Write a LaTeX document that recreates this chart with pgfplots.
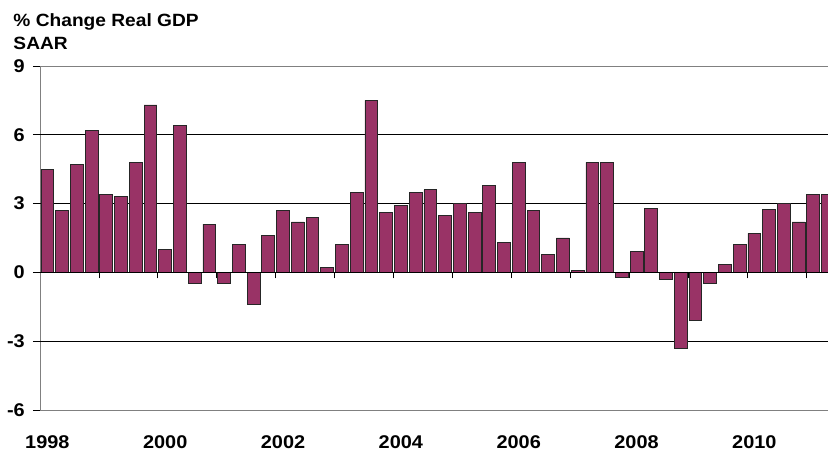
\documentclass[border=0pt]{standalone}
\usepackage{pgfplots}
\pgfplotsset{compat=1.18}
\usepackage{fontspec}
\setmainfont{Liberation Sans}[FakeStretch=1.08]
\definecolor{barfill}{RGB}{153,51,102}
\pgfplotstableread{
q val
0 4.5
1 2.7
2 4.7
3 6.2
4 3.4
5 3.3
6 4.8
7 7.3
8 1.0
9 6.4
10 -0.5
11 2.1
12 -0.5
13 1.2
14 -1.4
15 1.6
16 2.7
17 2.2
18 2.4
19 0.2
20 1.2
21 3.5
22 7.5
23 2.6
24 2.9
25 3.5
26 3.6
27 2.5
28 3.0
29 2.6
30 3.8
31 1.3
32 4.8
33 2.7
34 0.8
35 1.5
36 0.1
37 4.8
38 4.8
39 -0.2
40 0.9
41 2.8
42 -0.3
43 -3.3
44 -2.1
45 -0.5
46 0.35
47 1.2
48 1.7
49 2.75
50 3.0
51 2.2
52 3.4
53 3.4
}\gdp
\begin{document}
\begin{tikzpicture}
\begin{axis}[
  at={(0,0)}, anchor=south west,
  scale only axis, width=788bp, height=344bp,
  xmin=-0.5, xmax=53, ymin=-6, ymax=9,
  axis x line=box, axis y line=left,
  axis line style={-, draw=black!50, line width=0.9bp},
  ytick={-6,-3,0,3,6,9}, yticklabels={-6,-3,0,3,6,9},
  xtick={0,8,...,48}, xticklabels={1998,2000,2002,2004,2006,2008,2010},
  xtick style={draw=none},
  ytick style={black, line width=0.8bp},
  tick align=outside, major tick length=7bp,
  extra y ticks={-3,3,6}, extra y tick labels={},
  extra y tick style={grid=major, major grid style={black, line width=0.8bp}, tick style={draw=none}},
  ticklabel style={font=\fontsize{18.5}{20}\selectfont\bfseries, inner sep=0pt},
  yticklabel style={anchor=east, xshift=-8bp},
  xticklabel style={anchor=base, yshift=-31bp},
  ybar, bar width=0.87,
]
\addplot[fill=barfill, draw=black!85, line width=0.8bp] table[x=q, y=val] {\gdp};
\end{axis}
\begin{axis}[
  at={(0,0)}, anchor=south west,
  scale only axis, width=788bp, height=344bp,
  xmin=-0.5, xmax=53, ymin=-6, ymax=9,
  axis x line=middle, axis y line=none,
  axis line style={-, draw=black, line width=1.3bp},
  xtick={3.5,7.5,...,51.5}, xticklabels={},
  xtick style={black, line width=0.8bp},
  tick align=outside, major tick length=6bp,
]
\end{axis}
\node[anchor=base west, inner sep=0pt, font=\fontsize{17.8}{20}\selectfont\bfseries] at (-26.7bp,383.3bp) {\% Change Real GDP};
\node[anchor=base west, inner sep=0pt, font=\fontsize{17.8}{20}\selectfont\bfseries] at (-26.7bp,360bp) {SAAR};
\pgfresetboundingbox
\path (-40bp,-41bp) rectangle (788bp,410bp);
\end{tikzpicture}
\end{document}
